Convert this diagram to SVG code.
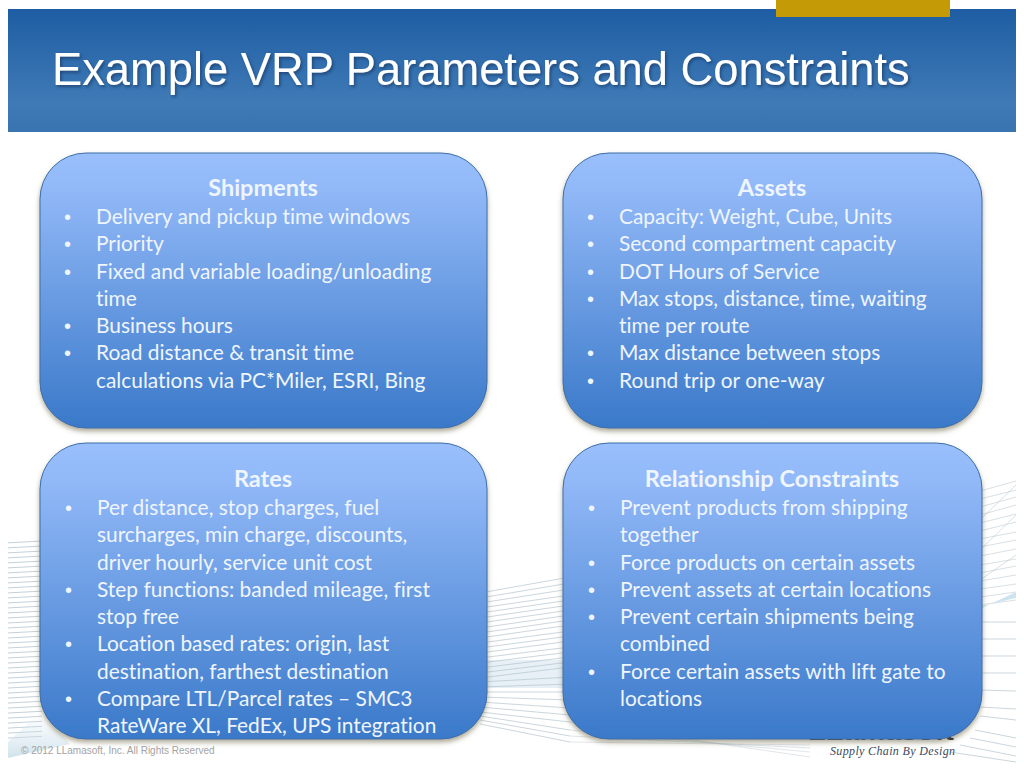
<svg xmlns="http://www.w3.org/2000/svg" width="1024" height="768" viewBox="0 0 1024 768">
<style>
.t{font-family:"Lato","Carlito","Noto Sans",sans-serif;font-size:20.9px;fill:#eff5ff;font-variant-ligatures:none}
.bl{font-family:"Liberation Sans",Arial,sans-serif;font-size:20px;fill:#eff5ff}
.h{font-family:"Lato","Carlito","Noto Sans",sans-serif;font-size:23.5px;font-weight:700;fill:#eff5ff;text-anchor:middle;font-variant-ligatures:none}
.w{fill:none;stroke:#b4c4ce;stroke-width:.7}
.b{stroke:#3f6ea8;stroke-width:1;filter:url(#sh)}
</style>
<defs>
<linearGradient id="hd" x1="0" y1="0" x2="0" y2="1"><stop offset="0" stop-color="#1e5da3"/><stop offset=".75" stop-color="#3f7ab6"/><stop offset="1" stop-color="#3a74b0"/></linearGradient>
<linearGradient id="bx" x1="0" y1="0" x2="0" y2="1"><stop offset="0" stop-color="#99bffc"/><stop offset=".12" stop-color="#92b9f8"/><stop offset="1" stop-color="#3a79c9"/></linearGradient>
<linearGradient id="haze" x1="0" y1="0" x2="0" y2="1"><stop offset="0" stop-color="#dbe8f1" stop-opacity="0"/><stop offset="1" stop-color="#c4dbe8"/></linearGradient>
<pattern id="stripes" width="34" height="5" patternUnits="userSpaceOnUse" patternTransform="rotate(-3)"><path d="M0 2.5H34" stroke="#b4c4ce" stroke-width=".8"/></pattern>
<filter id="sh" x="-5%" y="-5%" width="110%" height="112%"><feDropShadow dx="0" dy="3" stdDeviation="2.5" flood-color="#6b6340" flood-opacity=".55"/></filter>
<filter id="ts" x="-2%" y="-10%" width="104%" height="130%"><feDropShadow dx="1.5" dy="2" stdDeviation="1.5" flood-color="#0c2c55" flood-opacity=".6"/></filter>
</defs>
<rect width="1024" height="768" fill="#fff"/>
<g id="background-lines">
<rect x="8" y="540" width="34" height="200" fill="url(#stripes)"/>
<path d="M8 742L40 712L70 744L8 758Z" fill="url(#haze)" opacity=".8"/>
<path d="M480 660H570V688H480Z" fill="#e6f0f6"/>
<path class="w" d="M480 593L570 577M480 598L570 583M480 603L570 589M480 608L570 595M480 613L570 600M480 618L570 605M480 623L570 610M480 628L570 615M480 633L570 620M480 638L570 625M480 643L570 631M480 648L570 636M480 653L570 641M480 658L570 647M480 663L570 652M480 668L570 657M480 673L570 662M480 678L570 667M480 682L570 677M480 687L570 684M480 692L570 692M480 697L570 700M480 702L570 708M480 707L570 715M480 712L570 722M480 716L570 730M480 720L570 736M480 724L570 742"/>
<path class="w" d="M570 722L810 757M570 730L810 752M570 736L810 748M570 742L810 745" opacity=".6"/>
<path class="w" d="M980 491L1016 481M980 499L1016 490M980 507L1016 497M980 515L1016 505M980 523L1016 514M980 531L1016 522M980 539L1016 532M980 547L1016 540M980 556L1016 549M980 565L1016 559M980 573L1016 566M980 581L1016 575M980 589L1016 584M980 597L1016 592M980 605L1016 600M980 520L1016 485M980 550L1016 515M980 580L1016 555" opacity=".75"/>
<path d="M982 608L1016 592L1016 598L982 606Z" fill="#cfe3ee"/>
<path class="w" d="M980 622H1016M980 639H1016M980 656H1016M980 673H1016M980 690L1016 691M980 707L1016 709M980 716L1016 720M975 730L1016 738M970 738L1016 747M960 745L1016 756M950 752L1016 762"/>
</g>
<g id="header">
<rect x="8" y="9" width="1008" height="123" fill="url(#hd)"/>
<rect x="776" y="0" width="174" height="17" fill="#c49a06"/>
<text x="52" y="85" font-family="'Liberation Sans',Arial,sans-serif" font-size="45.3" fill="#fff" filter="url(#ts)">Example VRP Parameters and Constraints</text>
</g>
<g id="footer">
<text x="21" y="754" font-family="'Liberation Sans',Arial,sans-serif" font-size="10" fill="#a3a3a3">© 2012 LLamasoft, Inc. All Rights Reserved</text>
<text x="808" y="740" font-family="'Liberation Sans',Arial,sans-serif" font-size="22" font-weight="700" fill="#1f2730" textLength="146" lengthAdjust="spacingAndGlyphs">LLamasoft</text>
<text x="955" y="755" text-anchor="end" font-family="'Liberation Serif',serif" font-size="12" font-style="italic" fill="#3a4a60" textLength="125" lengthAdjust="spacing">Supply Chain By Design</text>
</g>
<g id="shipments">
<rect class="b" x="40" y="153" width="447" height="275" rx="46" fill="url(#bx)"/>
<text class="h" x="263" y="196">Shipments</text>
<text class="bl" x="64" y="224">•</text><text class="t" x="96" y="224">Delivery and pickup time windows</text>
<text class="bl" x="64" y="251">•</text><text class="t" x="96" y="251">Priority</text>
<text class="bl" x="64" y="279">•</text><text class="t" x="96" y="279">Fixed and variable loading/unloading</text>
<text class="t" x="96" y="306">time</text>
<text class="bl" x="64" y="333">•</text><text class="t" x="96" y="333">Business hours</text>
<text class="bl" x="64" y="360">•</text><text class="t" x="96" y="360">Road distance &amp; transit time</text>
<text class="t" x="96" y="388">calculations via PC*Miler, ESRI, Bing</text>
</g>
<g id="assets">
<rect class="b" x="563" y="153" width="419" height="275" rx="46" fill="url(#bx)"/>
<text class="h" x="772" y="196">Assets</text>
<text class="bl" x="587" y="224">•</text><text class="t" x="619" y="224">Capacity: Weight, Cube, Units</text>
<text class="bl" x="587" y="251">•</text><text class="t" x="619" y="251">Second compartment capacity</text>
<text class="bl" x="587" y="279">•</text><text class="t" x="619" y="279">DOT Hours of Service</text>
<text class="bl" x="587" y="306">•</text><text class="t" x="619" y="306">Max stops, distance, time, waiting</text>
<text class="t" x="619" y="333">time per route</text>
<text class="bl" x="587" y="360">•</text><text class="t" x="619" y="360">Max distance between stops</text>
<text class="bl" x="587" y="388">•</text><text class="t" x="619" y="388">Round trip or one-way</text>
</g>
<g id="rates">
<rect class="b" x="40" y="443" width="447" height="296" rx="46" fill="url(#bx)"/>
<text class="h" x="263" y="487">Rates</text>
<text class="bl" x="65" y="515">•</text><text class="t" x="97" y="515">Per distance, stop charges, fuel</text>
<text class="t" x="97" y="542">surcharges, min charge, discounts,</text>
<text class="t" x="97" y="570">driver hourly, service unit cost</text>
<text class="bl" x="65" y="597">•</text><text class="t" x="97" y="597">Step functions: banded mileage, first</text>
<text class="t" x="97" y="624">stop free</text>
<text class="bl" x="65" y="651">•</text><text class="t" x="97" y="651">Location based rates: origin, last</text>
<text class="t" x="97" y="679">destination, farthest destination</text>
<text class="bl" x="65" y="706">•</text><text class="t" x="97" y="706">Compare LTL/Parcel rates – SMC3</text>
<text class="t" x="97" y="733">RateWare XL, FedEx, UPS integration</text>
</g>
<g id="relationship-constraints">
<rect class="b" x="563" y="443" width="419" height="296" rx="46" fill="url(#bx)"/>
<text class="h" x="772" y="487">Relationship Constraints</text>
<text class="bl" x="588" y="515">•</text><text class="t" x="620" y="515">Prevent products from shipping</text>
<text class="t" x="620" y="542">together</text>
<text class="bl" x="588" y="570">•</text><text class="t" x="620" y="570">Force products on certain assets</text>
<text class="bl" x="588" y="597">•</text><text class="t" x="620" y="597">Prevent assets at certain locations</text>
<text class="bl" x="588" y="624">•</text><text class="t" x="620" y="624">Prevent certain shipments being</text>
<text class="t" x="620" y="651">combined</text>
<text class="bl" x="588" y="679">•</text><text class="t" x="620" y="679">Force certain assets with lift gate to</text>
<text class="t" x="620" y="706">locations</text>
</g>
</svg>
